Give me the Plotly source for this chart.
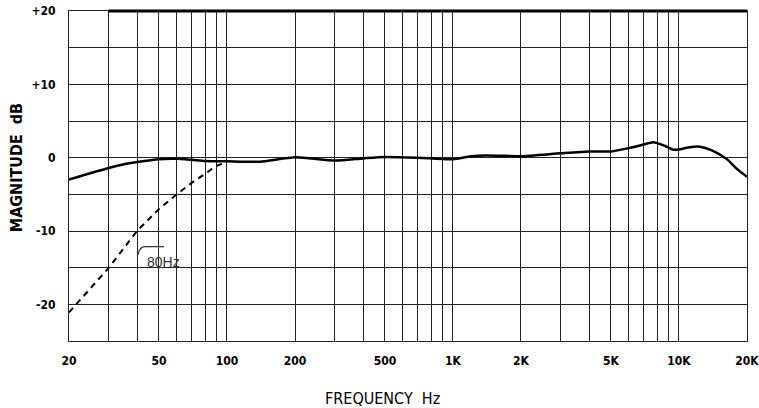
import math
import plotly.graph_objects as go

# Solid response curve
freq_hz = [20, 25, 30, 35, 40, 50, 60, 70, 80, 100, 140, 200, 300, 400, 500, 700,
           1000, 1200, 1400, 1700, 2000, 3000, 4000, 5000, 6000, 7000, 7700, 8500, 9400,
           10000, 11000, 12400, 14000, 16300, 18000, 20000]
magnitude_db = [-3.0, -2.1, -1.4, -0.9, -0.6, -0.2, -0.15, -0.3, -0.45, -0.5, -0.55, 0.05,
                -0.4, -0.1, 0.1, 0.0, -0.2, 0.2, 0.3, 0.25, 0.2, 0.6, 0.85, 0.85, 1.3, 1.8,
                2.1, 1.7, 1.1, 1.1, 1.4, 1.5, 1.0, -0.2, -1.5, -2.6]

# Dashed 80 Hz low-cut curve
cut_freq_hz = [20, 25, 30, 40, 50, 60, 70, 80, 90, 100]
cut_db = [-21.1, -17.7, -15.0, -10.0, -7.0, -5.0, -3.4, -2.2, -1.1, -0.6]

# Axis ticks
x_grid = [20, 30, 40, 50, 60, 70, 80, 90, 100, 200, 300, 400, 500, 600, 700, 800, 900,
          1000, 2000, 3000, 4000, 5000, 6000, 7000, 8000, 9000, 10000, 20000]
x_labels = {20: "20", 50: "50", 100: "100", 200: "200", 500: "500", 1000: "1K",
            2000: "2K", 5000: "5K", 10000: "10K", 20000: "20K"}
y_grid = [-25, -20, -15, -10, -5, 0, 5, 10, 15, 20]
y_labels = {20: "+20", 10: "+10", 0: "0", -10: "-10", -20: "-20"}

NARROW = "Liberation Sans Narrow, DejaVu Sans Condensed, Arial"
TICKFONT = dict(family=NARROW, size=12, color="#000", weight="bold")

fig = go.Figure()
fig.add_trace(go.Scatter(x=cut_freq_hz, y=cut_db, mode="lines",
                         line=dict(color="#000", width=2, dash="6px,5px"),
                         showlegend=False, hoverinfo="skip"))
fig.add_trace(go.Scatter(x=freq_hz, y=magnitude_db, mode="lines",
                         line=dict(color="#000", width=2.5, shape="spline", smoothing=0.6),
                         showlegend=False))

fig.update_xaxes(type="log", range=[math.log10(20) - 1e-4, math.log10(20000) + 1e-4],
                 tickvals=x_grid, ticktext=[x_labels.get(v, "") for v in x_grid],
                 showgrid=True, gridcolor="#222", gridwidth=1,
                 showline=True, linecolor="#222", linewidth=1, mirror=True,
                 ticks="", ticklabelstandoff=9, tickfont=TICKFONT, zeroline=False,
                 automargin=False, ticklabeloverflow="allow")
fig.update_yaxes(range=[-25, 20],
                 tickvals=y_grid, ticktext=[y_labels.get(v, "") for v in y_grid],
                 showgrid=True, gridcolor="#222", gridwidth=1,
                 showline=True, linecolor="#222", linewidth=1, mirror=True,
                 ticks="", ticklabelstandoff=10, tickfont=TICKFONT, zeroline=False,
                 automargin=False, ticklabeloverflow="allow")

fig.update_layout(
    width=759, height=408,
    margin=dict(l=69, r=12, t=11, b=67, autoexpand=False),
    paper_bgcolor="white", plot_bgcolor="white",
    shapes=[
        # thick top frame line starting at the 30 Hz gridline
        dict(type="line", xref="paper", yref="paper", x0=0.0586, x1=1.0, y0=1.0, y1=1.0,
             line=dict(color="#000", width=3)),
        # 80Hz bracket
        dict(type="path", xref="paper", yref="paper",
             path="M 0.1018 0.2606 Q 0.104 0.2858 0.112 0.2858 L 0.140 0.2858",
             line=dict(color="#333", width=1.2)),
    ],
    annotations=[
        dict(text="80Hz", xref="paper", yref="paper", x=0.1115, y=0.239,
             xanchor="left", yanchor="middle", showarrow=False,
             font=dict(family="Liberation Sans, Arial", size=14, color="#333")),
        dict(text="FREQUENCY  Hz", xref="paper", yref="paper", x=0.463, y=-0.173,
             xanchor="center", yanchor="middle", showarrow=False,
             font=dict(family=NARROW, size=16, color="#000")),
        dict(text="MAGNITUDE  dB", xref="paper", yref="paper", x=-0.078, y=0.524,
             xanchor="center", yanchor="middle", showarrow=False, textangle=-90,
             font=dict(family=NARROW, size=16, color="#000", weight="bold")),
    ],
)

fig.write_html("out.html", config={"displayModeBar": False},
               post_script="document.body.style.margin='0';document.body.style.overflow='hidden';")
